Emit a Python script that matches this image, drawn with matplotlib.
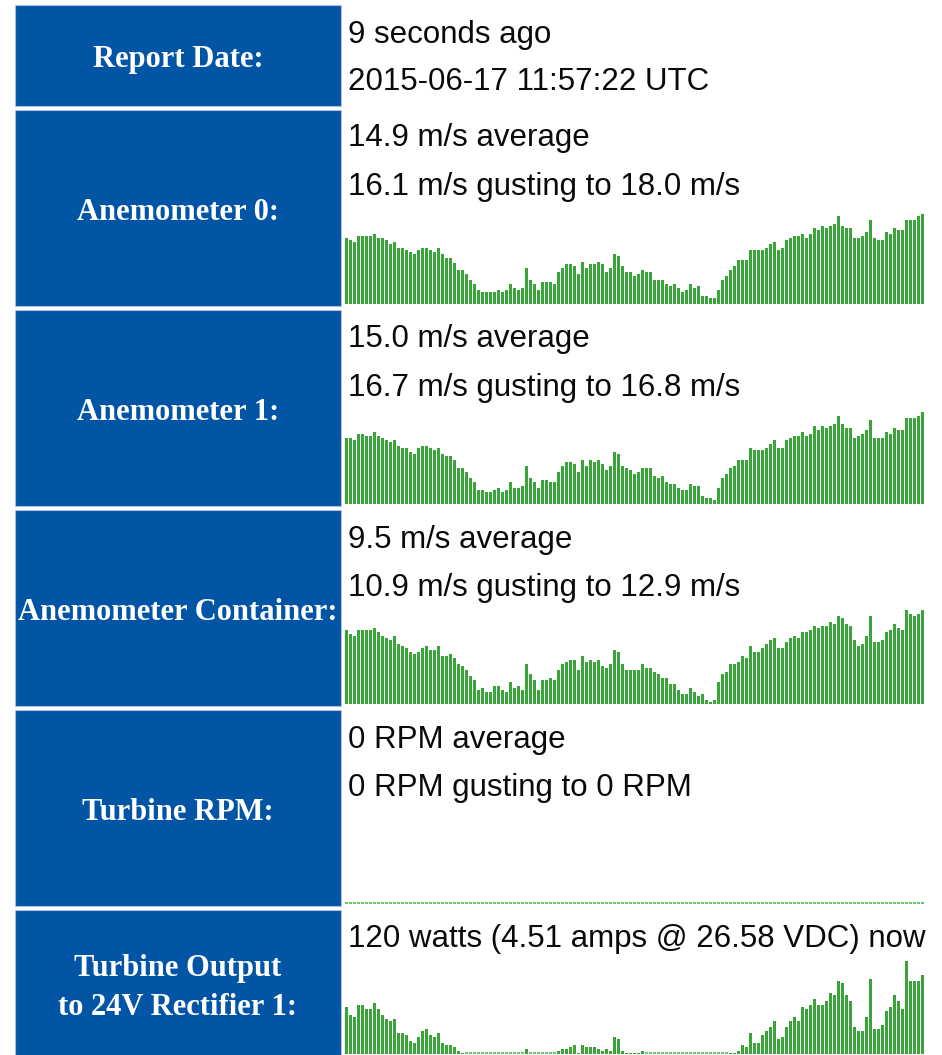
import matplotlib
matplotlib.use("Agg")
import matplotlib.pyplot as plt
from matplotlib.patches import Rectangle

# Figure size in pixels
W, H = 942, 1055

# Row labels (left column)
labels = ["Report Date:", "Anemometer 0:", "Anemometer 1:", "Anemometer Container:",
          "Turbine RPM:", "Turbine Output\nto 24V Rectifier 1:"]

# Text lines of each row (right column)
row_text = [
    ["9 seconds ago", "2015-06-17 11:57:22 UTC"],
    ["14.9 m/s average", "16.1 m/s gusting to 18.0 m/s"],
    ["15.0 m/s average", "16.7 m/s gusting to 16.8 m/s"],
    ["9.5 m/s average", "10.9 m/s gusting to 12.9 m/s"],
    ["0 RPM average", "0 RPM gusting to 0 RPM"],
    ["120 watts (4.51 amps @ 26.58 VDC) now"],
]

# Sparkline history (relative bar heights)
anem0 = [66, 64, 62, 68, 68, 68, 68, 70, 66, 66, 64, 60, 62, 56, 56, 54, 52, 50, 54, 56,
         56, 54, 52, 56, 50, 46, 46, 41, 34, 34, 30, 24, 20, 14, 12, 12, 12, 12, 14, 12,
         14, 20, 16, 14, 16, 36, 24, 20, 14, 22, 22, 22, 20, 32, 36, 40, 40, 38, 30, 42,
         36, 40, 40, 42, 40, 32, 36, 50, 48, 38, 32, 32, 28, 30,
         34, 32, 32, 24, 24, 24, 20, 18, 20, 16, 12, 14, 20, 16, 18, 8, 8, 6, 6, 14,
         24, 28, 34, 38, 44, 44, 44, 54, 54, 54, 54, 56, 60, 62, 54, 56, 64, 66, 68, 68,
         70, 66, 70, 76, 74, 78, 76, 78, 80, 88, 78, 76, 76, 66, 66, 68, 72, 84, 66, 64,
         64, 72, 70, 76, 74, 74, 84, 84, 84, 88, 90]

anem1 = [66, 66, 64, 70, 70, 68, 68, 72, 68, 66, 64, 62, 64, 58, 56, 56, 52, 50, 56, 58,
         58, 56, 54, 56, 50, 48, 48, 44, 36, 36, 32, 26, 22, 14, 14, 12, 12, 14, 16, 12,
         14, 22, 16, 16, 18, 38, 26, 22, 16, 24, 24, 22, 22, 32, 38, 42, 42, 40, 32, 44,
         38, 44, 42, 44, 40, 34, 38, 52, 50, 38, 36, 34, 30, 32,
         36, 36, 36, 28, 26, 28, 22, 20, 20, 16, 14, 14, 20, 18, 18, 8, 6, 6, 4, 16,
         26, 30, 36, 38, 44, 44, 44, 56, 54, 54, 54, 56, 60, 64, 56, 56, 64, 66, 68, 68,
         72, 68, 70, 78, 74, 78, 76, 78, 80, 88, 80, 76, 76, 66, 68, 70, 74, 84, 66, 66,
         66, 72, 70, 76, 74, 74, 86, 86, 86, 88, 92]

anem_container = [74, 70, 68, 74, 74, 74, 74, 76, 72, 68, 66, 64, 68, 60, 58, 56, 52, 50, 52, 56,
                  58, 54, 54, 58, 48, 48, 50, 46, 40, 38, 34, 28, 24, 14, 16, 12, 12, 18, 18, 14,
                  12, 22, 16, 18, 14, 40, 30, 24, 14, 24, 24, 26, 24, 34, 40, 42, 44, 44, 34, 48,
                  42, 44, 42, 44, 38, 36, 40, 54, 52, 40, 34, 34, 34, 34,
                  40, 36, 36, 32, 30, 26, 26, 20, 20, 14, 10, 10, 16, 12, 8, 10, 4, 2, 4, 22,
                  30, 32, 40, 40, 42, 48, 46, 58, 52, 52, 56, 60, 64, 66, 56, 56, 62, 66, 68, 66,
                  72, 72, 74, 78, 76, 78, 78, 82, 80, 88, 86, 80, 78, 64, 58, 60, 68, 88, 62, 62,
                  64, 72, 74, 80, 76, 74, 94, 90, 88, 90, 94]

turbine_rpm = [0] * 145

turbine_watts = [47, 39, 37, 49, 49, 45, 45, 51, 45, 39, 35, 33, 35, 21, 21, 19, 13, 11, 17, 23,
                 25, 19, 17, 21, 11, 9, 9, 7, 3, 1, 0, 0, 0, 0, 0, 0, 0, 0, 0, 0,
                 0, 0, 0, 0, 0, 5, 0, 0, 0, 0, 0, 0, 0, 3, 5, 5, 7, 9, 1, 9,
                 7, 7, 7, 5, 3, 5, 3, 17, 15, 3, 1, 1, 1, 1,
                 3, 0, 0, 0, 0, 0, 0, 0, 0, 0, 0, 0, 0, 0, 0, 0, 0, 0, 0, 0,
                 0, 0, 1, 1, 3, 9, 7, 21, 11, 11, 19, 23, 27, 33, 15, 17, 27, 33, 37, 33,
                 47, 45, 49, 55, 49, 49, 53, 61, 59, 73, 71, 59, 53, 27, 23, 23, 37, 75, 25, 25,
                 29, 43, 47, 59, 53, 45, 93, 73, 73, 73, 79]

series = [None, anem0, anem1, anem_container, turbine_rpm, turbine_watts]

# layout in pixels
row_top = [5, 110, 310, 510, 710, 910]
row_bot = [106, 306, 506, 706, 906, 1075]
label_y = [60, 212, 412, 612, 812, 988]
line_y = [[35, 82], [138, 187], [339, 388], [540, 588], [740, 788], [939]]
chart_base = [None, 304, 504, 704, 904, 1054]
CHART_H = 95

BLUE = "#0254a4"
GREEN = "#3aa33a"
LIGHT_GREEN = "#6cc66c"

fig = plt.figure(figsize=(W / 100, H / 100), dpi=100)
bg = fig.add_axes([0, 0, 1, 1])
bg.set_xlim(0, W)
bg.set_ylim(H, 0)
bg.axis("off")

for i in range(len(labels)):
    bg.add_patch(Rectangle((15, row_top[i]), 326, row_bot[i] - row_top[i],
                           facecolor=BLUE, edgecolor="#a8c3e4", linewidth=0.8))
    bg.text(178, label_y[i], labels[i], color="white", ha="center", va="center",
            fontsize=22, fontweight="bold", family="Liberation Serif", linespacing=1.42)
    for txt, y in zip(row_text[i], line_y[i]):
        bg.text(348, y, txt, color="#0a0a0a", ha="left", va="center",
                fontsize=22.5, family="Liberation Sans")

# sparkline bar charts (4 px per bar, 3 px wide)
for i, vals in enumerate(series):
    if vals is None:
        continue
    base = chart_base[i]
    ax = fig.add_axes([344.5 / W, 1 - base / H, 580 / W, CHART_H / H])
    xs = list(range(len(vals)))
    ax.bar(xs, vals, width=0.75, color=GREEN, linewidth=0)
    zeros = [x for x, v in zip(xs, vals) if v == 0]
    ax.bar(zeros, [2.0] * len(zeros), width=0.75, color=LIGHT_GREEN, linewidth=0)
    ax.set_xlim(-0.5, len(vals) - 0.5)
    ax.set_ylim(0, CHART_H)
    ax.axis("off")

fig.savefig("out.png", dpi=100)
